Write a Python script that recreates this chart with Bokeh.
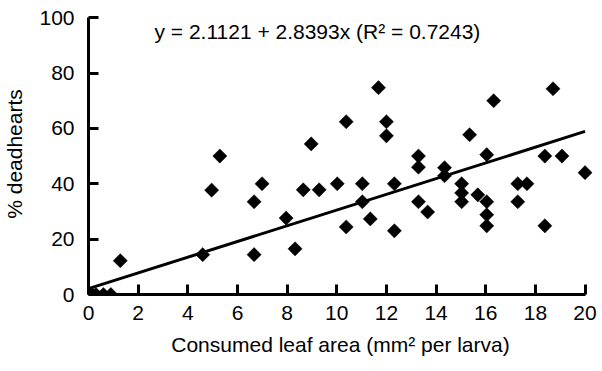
from bokeh.plotting import figure
from bokeh.models import FixedTicker, Range1d, Label
from bokeh.embed import file_html
from bokeh.resources import INLINE

# ---- data ----
area = [0, 0.05, 0.15, 0.3, 0.6, 0.9,
        1.28, 4.6, 4.96, 5.29, 6.67, 6.67, 6.99, 7.96, 8.32, 8.65, 8.97, 9.29,
        10.02, 10.38, 10.38, 11.03, 11.03, 11.35, 11.68, 12.0, 12.0, 12.32, 12.32,
        13.29, 13.29, 13.29, 13.66, 14.34, 14.34, 15.03, 15.03, 15.03, 15.35, 15.68,
        16.04, 16.04, 16.04, 16.04, 16.32, 17.29, 17.29, 17.66, 18.38, 18.38,
        18.71, 19.07, 20.0]
deadhearts = [0, 0, 0, 0, 0, 0,
              12.2, 14.4, 37.7, 50, 33.5, 14.4, 40, 27.6, 16.5, 37.8, 54.4, 37.8,
              40, 62.4, 24.4, 40, 33.5, 27.3, 74.7, 62.4, 57.3, 40, 23,
              50, 46, 33.5, 29.8, 45.8, 42.9, 40, 36.7, 33.5, 57.7, 36,
              50.5, 33.5, 28.8, 24.8, 70, 40, 33.5, 40, 50, 24.8,
              74.3, 50, 44]
intercept = 2.1121
slope = 2.8393
r2 = 0.7243
x_ticks = [0, 2, 4, 6, 8, 10, 12, 14, 16, 18, 20]
y_ticks = [0, 20, 40, 60, 80, 100]

FONT = "Liberation Sans"
FS = "21px"

p = figure(frame_width=504, frame_height=281,
           x_range=Range1d(0, 20.3), y_range=Range1d(0, 101.5),
           output_backend="svg", toolbar_location=None,
           min_border_left=85, min_border_top=13, min_border_right=6, min_border_bottom=0)
p.grid.visible = False
p.outline_line_color = None
p.background_fill_color = "white"
p.border_fill_color = "white"

for ax in (p.xaxis[0], p.yaxis[0]):
    ax.axis_line_color = "black"
    ax.axis_line_width = 3
    ax.major_tick_line_color = "black"
    ax.major_tick_line_width = 3
    ax.minor_tick_line_color = None
    ax.major_tick_out = 0
    ax.major_tick_in = 10
    ax.major_label_text_font = FONT
    ax.major_label_text_font_size = FS
    ax.major_label_text_color = "black"
    ax.axis_label_text_font = FONT
    ax.axis_label_text_font_size = FS
    ax.axis_label_text_font_style = "normal"
    ax.axis_label_text_color = "black"

p.xaxis.ticker = FixedTicker(ticks=x_ticks)
p.yaxis.ticker = FixedTicker(ticks=y_ticks)
p.xaxis.bounds = (x_ticks[0], x_ticks[-1])
p.yaxis.bounds = (y_ticks[0], y_ticks[-1])
p.xaxis.major_label_standoff = 11
p.yaxis.major_label_standoff = 14
p.xaxis.axis_label = "Consumed leaf area (mm² per larva)"
p.yaxis.axis_label = "% deadhearts"
p.xaxis.axis_label_standoff = 10
p.yaxis.axis_label_standoff = 10

# regression line
xr = [x_ticks[0], x_ticks[-1]]
p.line(x=xr, y=[intercept + slope * v for v in xr], line_color="black", line_width=3)

# data points (diamonds)
p.scatter(x=area, y=deadhearts, marker="square", angle=45, angle_units="deg", size=10,
          fill_color="black", line_color="black", line_width=0.5)

p.add_layout(Label(x=9.22, y=94.9, text=f"y = {intercept} + {slope}x (R² = {r2})",
                   text_font=FONT, text_font_size=FS, text_align="center",
                   text_baseline="alphabetic", text_color="black"))

open("out.html", "w").write(file_html(p, INLINE))
